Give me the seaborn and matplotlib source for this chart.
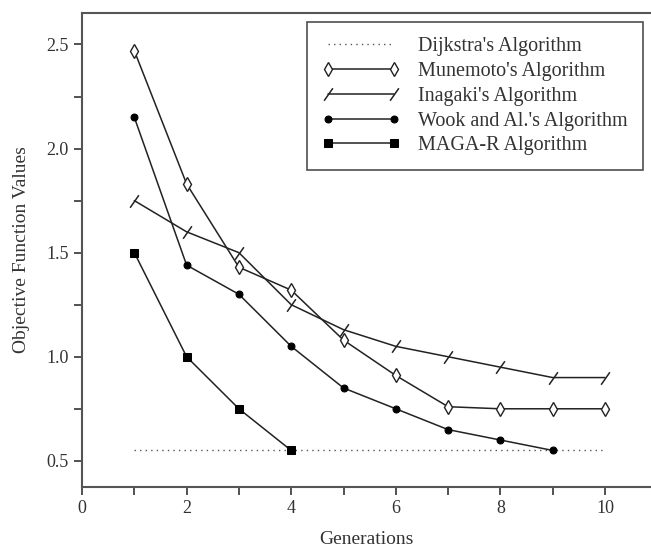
import numpy as np
import pandas as pd
import matplotlib
matplotlib.use("Agg")
import matplotlib.pyplot as plt
import seaborn as sns
from matplotlib.ticker import MultipleLocator, FormatStrFormatter

# Data
dijkstra_x = [1, 10]
dijkstra_y = [0.55, 0.55]

munemoto_x = [1, 2, 3, 4, 5, 6, 7, 8, 9, 10]
munemoto_y = [2.47, 1.83, 1.43, 1.32, 1.08, 0.91, 0.76, 0.75, 0.75, 0.75]

inagaki_x = [1, 2, 3, 4, 5, 6, 7, 8, 9, 10]
inagaki_y = [1.75, 1.60, 1.50, 1.25, 1.13, 1.05, 1.00, 0.95, 0.90, 0.90]

wook_x = [1, 2, 3, 4, 5, 6, 7, 8, 9]
wook_y = [2.15, 1.44, 1.30, 1.05, 0.85, 0.75, 0.65, 0.60, 0.55]

maga_x = [1, 2, 3, 4]
maga_y = [1.50, 1.00, 0.75, 0.55]

sns.set_style("ticks")
plt.rcParams['font.family'] = ['Liberation Serif', 'DejaVu Serif']

fig = plt.figure(figsize=(6.51, 5.52), dpi=100)
ax = fig.add_axes([0.126, 0.118, 0.874, 0.858])

line_kw = dict(color='#222222', linewidth=1.1, ax=ax)

sns.lineplot(x=dijkstra_x, y=dijkstra_y, linestyle=(0, (1, 3)), color='#555555',
             linewidth=1.0, ax=ax, label="Dijkstra's Algorithm")
sns.lineplot(x=munemoto_x, y=munemoto_y, marker='d', markersize=7,
             markerfacecolor='white', markeredgecolor='#222222', markeredgewidth=1.0,
             label="Munemoto's Algorithm", **line_kw)
sns.lineplot(x=inagaki_x, y=inagaki_y, marker=(2, 0, -35), markersize=11,
             markeredgecolor='#222222', markeredgewidth=1.1,
             label="Inagaki's Algorithm", **line_kw)
sns.lineplot(x=wook_x, y=wook_y, marker='o', markersize=5,
             markerfacecolor='black', markeredgecolor='black',
             label="Wook and Al.'s Algorithm", **line_kw)
sns.lineplot(x=maga_x, y=maga_y, marker='s', markersize=6,
             markerfacecolor='black', markeredgecolor='black',
             label="MAGA-R Algorithm", **line_kw)

ax.set_xlim(0, 10.88)
ax.set_ylim(0.375, 2.65)
ax.xaxis.set_major_locator(MultipleLocator(2))
ax.xaxis.set_minor_locator(MultipleLocator(1))
ax.yaxis.set_major_locator(MultipleLocator(0.5))
ax.yaxis.set_minor_locator(MultipleLocator(0.25))
ax.yaxis.set_major_formatter(FormatStrFormatter('%.1f'))
ax.tick_params(which='both', direction='out', color='#333333', width=1.2,
               length=6, labelsize=13, labelcolor='#333333')

for side in ['left', 'bottom', 'top']:
    ax.spines[side].set_color('#555555')
    ax.spines[side].set_linewidth(1.5)
ax.spines['right'].set_visible(False)

ax.set_xlabel('Generations', fontsize=14, color='#333333', labelpad=10)
ax.set_ylabel('Objective Function Values', fontsize=14, color='#333333', labelpad=12)

leg = ax.legend(loc='upper right', bbox_to_anchor=(0.986, 0.981), borderaxespad=0,
                fontsize=14.5, frameon=True, fancybox=False, edgecolor='#222222',
                numpoints=2, handlelength=3.9, handletextpad=0.9,
                borderpad=0.75, labelspacing=0.28)
leg.get_frame().set_linewidth(1.2)
for t in leg.get_texts():
    t.set_color('#333333')

fig.savefig('out.png', dpi=100)
